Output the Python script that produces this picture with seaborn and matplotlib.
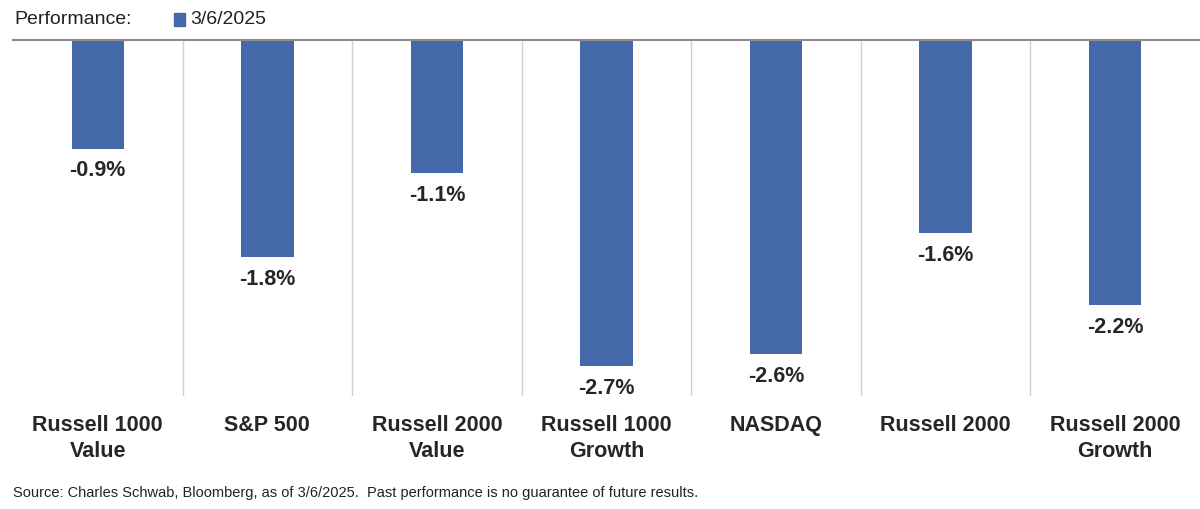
import matplotlib
matplotlib.use("Agg")
import matplotlib.pyplot as plt
import seaborn as sns
import pandas as pd

categories = ["Russell 1000\nValue", "S&P 500", "Russell 2000\nValue", "Russell 1000\nGrowth",
              "NASDAQ", "Russell 2000", "Russell 2000\nGrowth"]
values = [-0.9, -1.8, -1.1, -2.7, -2.6, -1.6, -2.2]
series_name = "3/6/2025"

df = pd.DataFrame({"index": categories, "perf": values})
bar_color = "#4468A8"

sns.set_theme(style="white")
plt.rcParams["font.family"] = ["Liberation Sans", "DejaVu Sans"]

fig = plt.figure(figsize=(12, 5.1), dpi=100)
ax = fig.add_axes([13 / 1200, 1 - 397 / 510, 1 - 13 / 1200, 356 / 510])
sns.barplot(data=df, x="index", y="perf", color=bar_color, width=0.31, saturation=1,
            linewidth=0, ax=ax)
ax.set_ylim(-2.95, 0)
ax.set_xlim(-0.5, len(categories) - 0.5)
for s in ["left", "right", "bottom"]:
    ax.spines[s].set_visible(False)
ax.spines["top"].set_color("#8c8c8c")
ax.spines["top"].set_linewidth(1.5)
ax.set_yticks([])
ax.set_xticks([])
ax.set_xlabel("")
ax.set_ylabel("")
for i in range(1, len(categories)):
    ax.axvline(i - 0.5, color="#d0d0d0", lw=1)

for i, (c, v) in enumerate(zip(categories, values)):
    ax.text(i, v - 0.09, f"{v:.1f}%", ha="center", va="top", fontsize=15.5, fontweight="bold")
    ax.text(i, -3.1, c, ha="center", va="top", fontsize=15.5, fontweight="bold",
            linespacing=1.3, clip_on=False)

fig.text(0.012, 1 - 20 / 510, "Performance:", fontsize=14, va="center", color="#222222")
fig.patches.append(plt.Rectangle((174 / 1200, 1 - 27 / 510), 11 / 1200, 13 / 510,
                                 transform=fig.transFigure, color=bar_color))
fig.text(190 / 1200, 1 - 20 / 510, series_name, fontsize=14, va="center", color="#222222")
fig.text(13 / 1200, 1 - 493 / 510,
         "Source: Charles Schwab, Bloomberg, as of 3/6/2025.  Past performance is no guarantee of future results.",
         fontsize=10.5, va="center", color="#222222")

fig.savefig("out.png", dpi=100)
